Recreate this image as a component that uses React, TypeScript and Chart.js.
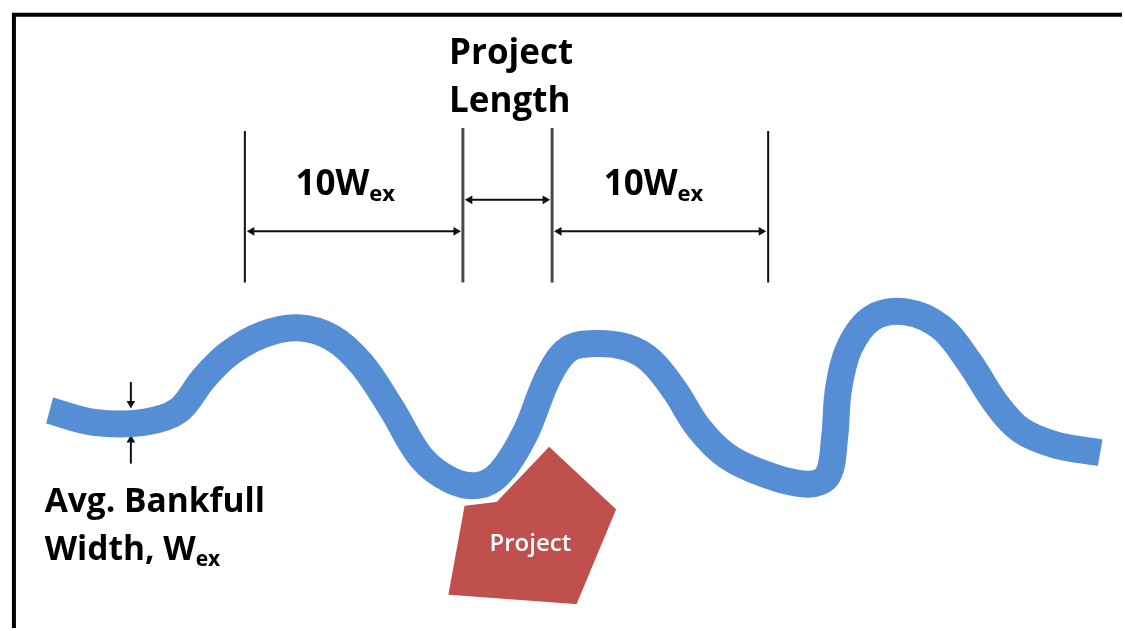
import React, { useEffect, useRef } from "react";
import { Chart, registerables } from "chart.js";

Chart.register(...registerables);

// River centre line (drawing units = pixels of the 1125x631 figure, y downward)
const RIVER_X = [45, 90, 140, 175, 200, 225, 260, 295, 330, 360, 390, 420, 450, 478, 500, 525, 548, 568, 595, 628, 652, 676, 700, 728, 765, 810, 830, 837, 841, 852, 875, 910, 945, 973, 1000, 1025, 1060, 1105];
const RIVER_Y = [412, 424, 424, 412, 380, 355, 335, 328, 338, 365, 410, 460, 483, 488, 475, 435, 378, 350, 344, 348, 362, 392, 430, 458, 476, 487, 478, 440, 390, 348, 318, 312, 328, 363, 405, 432, 447, 455];

// Project footprint polygon
const PROJECT_X = [445, 462, 495, 549, 619, 578, 445];
const PROJECT_Y = [601, 507, 503, 446, 512, 611, 601];

// Dimension (extension) lines
const EXT_X = [242, 462, 552, 770];
const EXT_TOP = [128, 125, 125, 128];
const EXT_BOTTOM = [282, 282, 282, 282];

// Dimension arrows: start x, end x, y
const SPAN_X1 = [244, 464, 554];
const SPAN_X2 = [460, 550, 768];
const SPAN_Y = [230, 198, 230];

// Bankfull width arrows: x, tail y, tip y
const BANK_X = [127, 127];
const BANK_TAIL = [383, 466];
const BANK_TIP = [410, 437];

// Frame
const FRAME_X = [9, 9, 1125];
const FRAME_Y = [631, 10, 10];

// Text labels
const LABEL_TEXT = ["Project", "Length", "10W", "10W", "Avg. Bankfull", "Width, W", "Project"];
const LABEL_SUB = ["", "", "ex", "ex", "", "ex", ""];
const LABEL_X = [448, 448, 293, 604, 40, 40, 530];
const LABEL_Y = [60, 109, 193, 193, 515, 564, 555];

const LABEL_SIZE = [35, 35, 35, 35, 33.5, 33.5, 24];
const LABEL_WEIGHT = ["bold", "bold", "bold", "bold", "bold", "bold", "600"];
const LABEL_COLOR = ["#000", "#000", "#000", "#000", "#000", "#000", "#fff"];
const LABEL_ALIGN = ["left", "left", "left", "left", "left", "left", "center"];

const FONT = "'Open Sans', Lato, sans-serif";

const pts = (xs: number[], ys: number[]) => xs.map((x, i) => ({ x, y: ys[i] }));

const textPlugin = {
  id: "diagramText",
  afterDatasetsDraw(chart: any) {
    const { ctx, scales } = chart;
    const sx = scales.x;
    const sy = scales.y;
    LABEL_TEXT.forEach((t, i) => {
      ctx.save();
      const size = LABEL_SIZE[i];
      const subSize = Math.round(size * 0.64);
      const w = LABEL_WEIGHT[i];
      ctx.fillStyle = LABEL_COLOR[i];
      ctx.textBaseline = "alphabetic";
      ctx.textAlign = "left";
      ctx.font = `${w} ${size}px ${FONT}`;
      const mainW = ctx.measureText(t).width;
      let subW = 0;
      if (LABEL_SUB[i]) {
        ctx.font = `${w} ${subSize}px ${FONT}`;
        subW = ctx.measureText(LABEL_SUB[i]).width;
      }
      let px = sx.getPixelForValue(LABEL_X[i]);
      const py = sy.getPixelForValue(LABEL_Y[i]);
      if (LABEL_ALIGN[i] === "center") px -= (mainW + subW) / 2;
      ctx.font = `${w} ${size}px ${FONT}`;
      ctx.fillText(t, px, py);
      if (LABEL_SUB[i]) {
        ctx.font = `${w} ${subSize}px ${FONT}`;
        ctx.fillText(LABEL_SUB[i], px + mainW, py + 6);
      }
      ctx.restore();
    });
  },
};

export default function App() {
  const ref = useRef<HTMLCanvasElement | null>(null);

  useEffect(() => {
    if (!ref.current) return;
    const R = 5;
    const datasets: any[] = [];

    datasets.push({
      label: "frame",
      data: pts(FRAME_X, FRAME_Y),
      borderColor: "#000",
      borderWidth: 4,
      pointRadius: 0,
      showLine: true,
      borderCapStyle: "square",
      order: 0,
      clip: false,
    });

    datasets.push({
      label: "project",
      data: pts(PROJECT_X, PROJECT_Y),
      borderColor: "#ffffff",
      borderWidth: 4,
      backgroundColor: "#C0504D",
      fill: "shape",
      pointRadius: 0,
      showLine: true,
      borderJoinStyle: "round",
      order: 1,
    });

    datasets.push({
      label: "river",
      data: pts(RIVER_X, RIVER_Y),
      borderColor: "#558ED5",
      borderWidth: 27,
      tension: 0.35,
      pointRadius: 0,
      showLine: true,
      borderCapStyle: "butt",
      borderJoinStyle: "round",
      order: 2,
    });

    EXT_X.forEach((x, i) => {
      const inner = i === 1 || i === 2;
      datasets.push({
        label: "ext" + i,
        data: [
          { x, y: EXT_TOP[i] },
          { x, y: EXT_BOTTOM[i] },
        ],
        borderColor: inner ? "#4a4a4a" : "#111",
        borderWidth: inner ? 3 : 2,
        pointRadius: 0,
        showLine: true,
        order: 3,
      });
    });

    SPAN_X1.forEach((x1, i) => {
      const x2 = SPAN_X2[i];
      const y = SPAN_Y[i];
      datasets.push({
        label: "span" + i,
        data: [
          { x: x1 + R, y },
          { x: x2 - R, y },
        ],
        borderColor: "#111",
        borderWidth: 2,
        pointRadius: 0,
        showLine: true,
        order: 3,
      });
      datasets.push({
        label: "spanHeads" + i,
        data: [
          { x: x1 + R, y },
          { x: x2 - R, y },
        ],
        showLine: false,
        pointStyle: "triangle",
        pointRotation: [270, 90],
        pointRadius: R,
        pointBorderWidth: 0,
        pointBackgroundColor: "#111",
        order: 3,
      });
    });

    BANK_X.forEach((x, i) => {
      const tail = BANK_TAIL[i];
      const tip = BANK_TIP[i];
      const dir = tip > tail ? 1 : -1;
      datasets.push({
        label: "bank" + i,
        data: [
          { x, y: tail },
          { x, y: tip - dir * R },
        ],
        borderColor: "#111",
        borderWidth: 2,
        pointRadius: 0,
        showLine: true,
        order: 3,
      });
      datasets.push({
        label: "bankHead" + i,
        data: [{ x, y: tip - dir * R }],
        showLine: false,
        pointStyle: "triangle",
        pointRotation: dir > 0 ? 180 : 0,
        pointRadius: R,
        pointBorderWidth: 0,
        pointBackgroundColor: "#111",
        order: 3,
      });
    });

    const chart = new Chart(ref.current, {
      type: "scatter",
      data: { datasets },
      options: {
        animation: false,
        responsive: false,
        devicePixelRatio: 1,
        layout: { padding: 0 },
        plugins: {
          legend: { display: false },
          tooltip: { enabled: false },
          title: { display: false },
        },
        events: [],
        scales: {
          x: { type: "linear", min: 0, max: 1125, display: false },
          y: { type: "linear", min: 0, max: 631, reverse: true, display: false },
        },
      },
      plugins: [textPlugin],
    } as any);

    return () => chart.destroy();
  }, []);

  return (
    <div style={{ position: "absolute", left: 0, top: 0, width: 1125, height: 631, background: "#fff" }}>
      <canvas ref={ref} width={1125} height={631} style={{ display: "block", width: 1125, height: 631 }} />
    </div>
  );
}
